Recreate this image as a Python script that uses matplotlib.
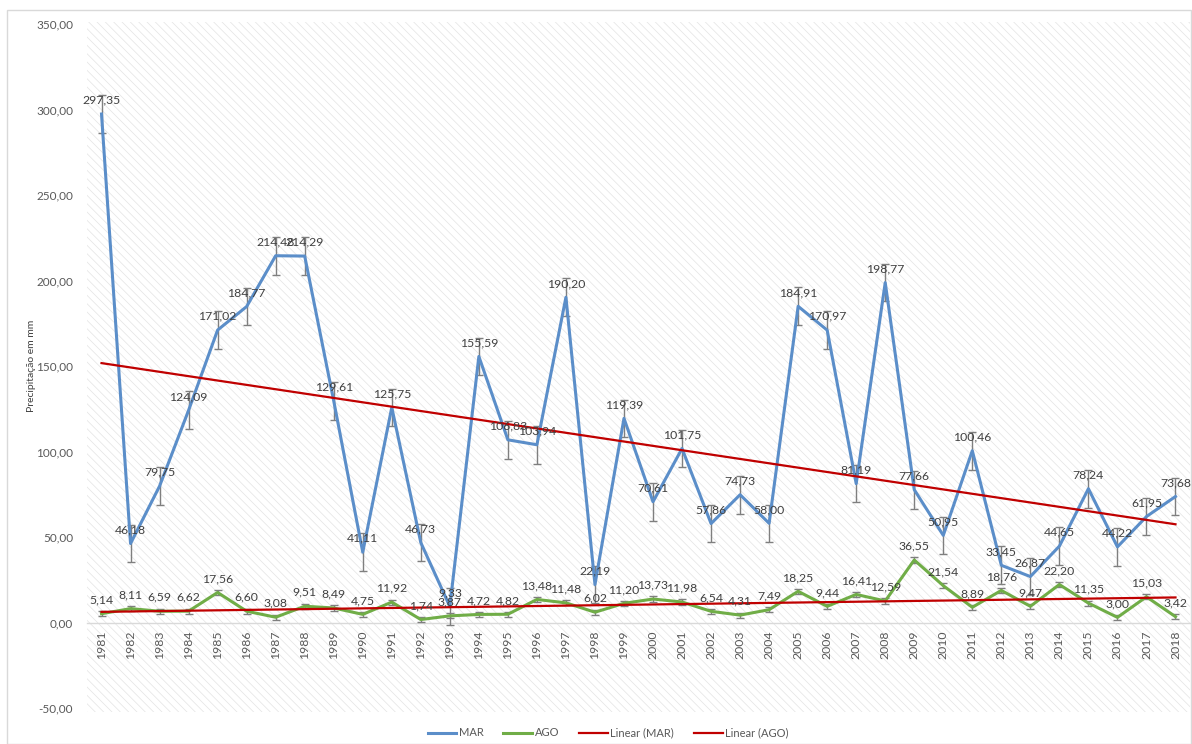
import matplotlib
matplotlib.use("Agg")
import matplotlib.pyplot as plt
import numpy as np
from matplotlib.patches import Rectangle
from matplotlib.lines import Line2D

years = list(range(1981, 2019))
mar = [297.35, 46.18, 79.75, 124.09, 171.02, 184.77, 214.48, 214.29, 129.61, 41.11,
       125.75, 46.73, 9.33, 155.59, 106.83, 103.94, 190.20, 22.19, 119.39, 70.61,
       101.75, 57.86, 74.73, 58.00, 184.91, 170.97, 81.19, 198.77, 77.66, 50.95,
       100.46, 33.45, 26.87, 44.65, 78.24, 44.22, 61.95, 73.68]
ago = [5.14, 8.11, 6.59, 6.62, 17.56, 6.60, 3.08, 9.51, 8.49, 4.75,
       11.92, 1.74, 3.87, 4.72, 4.82, 13.48, 11.48, 6.02, 11.20, 13.73,
       11.98, 6.54, 4.31, 7.49, 18.25, 9.44, 16.41, 12.59, 36.55, 21.54,
       8.89, 18.76, 9.47, 22.20, 11.35, 3.00, 15.03, 3.42]
mar_err = 11.0
ago_err = 1.5
yticks = [-50, 0, 50, 100, 150, 200, 250, 300, 350]

plt.rcParams['font.family'] = ['Lato', 'DejaVu Sans']
plt.rcParams['hatch.linewidth'] = 0.5

W, H = 1192, 744
fig = plt.figure(figsize=(W / 100, H / 100), dpi=100)

# outer border
fig.patches.append(Rectangle((7 / W, 0), (W - 8) / W, 1 - 10 / H, transform=fig.transFigure,
                             fill=False, edgecolor='#d9d9d9', linewidth=1, zorder=-2))
# hatched plot area
fig.patches.append(Rectangle((87 / W, 1 - 712 / H), (1190 - 87) / W, (712 - 22) / H,
                             transform=fig.transFigure, facecolor='white',
                             edgecolor='#e3e3e3', hatch='\\\\\\\\', linewidth=0, zorder=-1))

ax = fig.add_axes([87 / W, 1 - 708 / H, (1190 - 87) / W, (708 - 24) / H])
ax.patch.set_alpha(0)
ax.set_zorder(1)

for s in ['top', 'right', 'left']:
    ax.spines[s].set_visible(False)
ax.spines['bottom'].set_position(('data', 0))
ax.spines['bottom'].set_color('#d9d9d9')
ax.spines['bottom'].set_linewidth(1)

x = np.arange(len(years))
grey = '#595959'

# trend lines
cm = np.polyfit(x, mar, 1)
ca = np.polyfit(x, ago, 1)
ax.plot(x, np.polyval(cm, x), color='#c00000', lw=1.6, zorder=4)
ax.plot(x, np.polyval(ca, x), color='#c00000', lw=1.6, zorder=4)

ax.errorbar(x, mar, yerr=mar_err, color='#5b8ec9', lw=2.2, ecolor='#7f7f7f',
            elinewidth=1, capsize=3, capthick=1, zorder=3)
ax.errorbar(x, ago, yerr=ago_err, color='#70ad47', lw=2.2, ecolor='#7f7f7f',
            elinewidth=1, capsize=3, capthick=1, zorder=3)

def fmt(v):
    return f"{v:.2f}".replace('.', ',')

for xi, v in zip(x, mar):
    ax.annotate(fmt(v), (xi, v), xytext=(0, 6), textcoords='offset points',
                ha='center', va='bottom', fontsize=8.8, color='#404040', zorder=5)
for xi, v in zip(x, ago):
    ax.annotate(fmt(v), (xi, v), xytext=(0, 6), textcoords='offset points',
                ha='center', va='bottom', fontsize=8.8, color='#404040', zorder=5)

ax.set_xlim(-0.5, len(years) - 0.5)
ax.set_ylim(-50, 350)
ax.set_yticks(yticks)
ax.set_yticklabels([fmt(v) for v in yticks], fontsize=8.5, color=grey)
ax.tick_params(axis='y', length=0, pad=10)

ax.set_xticks(x)
ax.set_xticklabels([str(y) for y in years], fontsize=8.8, color=grey)
ax.tick_params(axis='x', length=0, pad=6, labelrotation=90)

fig.text(32 / W, 1 - 366 / H, 'Precipitação em mm', rotation=90, ha='center', va='center',
         fontsize=7.5, color='#404040')

handles = [Line2D([], [], color='#5b8ec9', lw=2.2),
           Line2D([], [], color='#70ad47', lw=2.2),
           Line2D([], [], color='#c00000', lw=1.6),
           Line2D([], [], color='#c00000', lw=1.6)]
leg = fig.legend(handles, ['MAR', 'AGO', 'Linear (MAR)', 'Linear (AGO)'], loc='center',
                 bbox_to_anchor=(608 / W, 1 - 733 / H), ncol=4, frameon=False,
                 fontsize=8, handlelength=2.6, handletextpad=0.2, columnspacing=1.8)
for t in leg.get_texts():
    t.set_color(grey)

fig.savefig('out.png', dpi=100)
